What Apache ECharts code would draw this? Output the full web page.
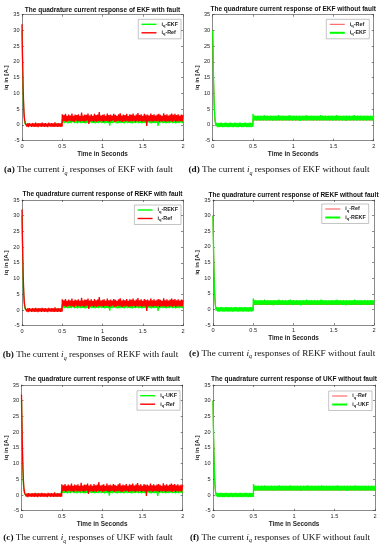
<!DOCTYPE html>
<html><head><meta charset="utf-8">
<script src="https://cdn.jsdelivr.net/npm/echarts@6/dist/echarts.min.js"></script>
<style>html,body{margin:0;padding:0;background:#fff}#c{width:383px;height:550px}</style>
</head><body><div id="c"></div>
<script>
// ---- data ----
const time = [0,0.005,0.01,0.015,0.02,0.025,0.03,0.04,
0.05,0.06,0.07,0.08,0.09,0.1,0.11,0.12,0.13,0.14,
0.15,0.16,0.17,0.18,0.19,0.2,0.21,0.22,0.23,0.24,
0.25,0.26,0.27,0.28,0.29,0.3,0.31,0.32,0.33,0.34,
0.35,0.36,0.37,0.38,0.39,0.4,0.41,0.42,0.43,0.44,
0.45,0.46,0.47,0.48,0.49,0.499,
0.5,0.51,0.52,0.53,0.54,0.55,0.56,0.57,0.58,0.59,
0.6,0.61,0.62,0.63,0.64,0.65,0.66,0.67,0.68,0.69,
0.7,0.71,0.72,0.73,0.74,0.75,0.76,0.77,0.78,0.79,
0.8,0.81,0.82,0.83,0.84,0.85,0.86,0.87,0.88,0.89,
0.9,0.91,0.92,0.93,0.94,0.95,0.96,0.97,0.98,0.99,
1,1.01,1.02,1.03,1.04,1.05,1.06,1.07,1.08,1.09,
1.1,1.11,1.12,1.13,1.14,1.15,1.16,1.17,1.18,1.19,
1.2,1.21,1.22,1.23,1.24,1.25,1.26,1.27,1.28,1.29,
1.3,1.31,1.32,1.33,1.34,1.35,1.36,1.37,1.38,1.39,
1.4,1.41,1.42,1.43,1.44,1.45,1.46,1.47,1.48,1.49,
1.5,1.51,1.52,1.53,1.54,1.55,1.56,1.57,1.58,1.59,
1.6,1.61,1.62,1.63,1.64,1.65,1.66,1.67,1.68,1.69,
1.7,1.71,1.72,1.73,1.74,1.75,1.76,1.77,1.78,1.79,
1.8,1.81,1.82,1.83,1.84,1.85,1.86,1.87,1.88,1.89,
1.9,1.91,1.92,1.93,1.94,1.95,1.96,1.97,1.98,1.99,
2];

// reference current with fault (red, noisy)
const refFault = [32,24,17,11,7,4,2.2,0.6,
0.6,-0.5,0.5,-0.7,0.6,-0.4,0.4,-0.6,0.6,-0.5,
0.5,-0.6,0.7,-0.5,0.4,-0.7,0.6,-0.4,0.5,-0.6,
0.7,-0.5,0.5,-0.6,0.6,-0.5,0.4,-0.7,0.7,-0.4,
0.5,-0.6,0.6,-0.5,0.5,-0.6,0.8,-0.5,0.4,-0.6,
0.6,-0.5,0.5,-0.6,0.6,-0.5,
3.4,1.2,3.1,1.3,3.5,1.0,2.9,1.2,3.3,1.4,
3.0,1.1,3.6,1.2,2.9,1.0,3.3,1.4,3.1,1.1,
3.4,1.2,2.9,1.1,3.9,1.3,3.0,1.0,3.3,1.2,
3.2,1.4,3.6,0.3,3.0,1.1,3.4,1.2,2.9,1.0,
3.5,1.2,3.1,1.0,3.3,1.3,4.1,1.1,3.0,1.3,
3.2,1.0,3.4,1.2,2.9,1.3,3.6,1.1,3.1,1.0,
3.3,1.2,3.0,1.4,3.5,1.0,3.2,1.1,2.9,1.3,
3.4,1.2,3.7,1.1,3.0,1.0,3.3,1.2,3.1,1.1,
3.5,1.3,2.9,1.0,3.4,1.2,3.2,1.1,3.6,1.3,
3.0,1.0,3.3,1.2,3.8,1.1,3.1,1.3,3.4,1.0,
2.9,1.2,3.5,1.1,3.2,-0.3,3.3,1.2,3.0,1.1,
3.6,1.2,3.1,1.0,3.4,1.3,3.0,1.1,3.3,1.2,
3.5,1.0,3.2,1.2,2.9,1.1,3.7,1.2,3.1,1.0,
3.4,1.2,3.0,1.1,3.3,1.2,3.6,1.0,3.2,1.3,
3.5,1.0,3.1,1.2,3.4,1.1,3.0,1.2,3.3,1.1,
3.2];

// estimated current with fault (green, mostly under the red)
const estFault = [30,22,15,9.5,5.5,3,1.4,0.3,
0.3,-0.3,0.2,-0.4,0.3,-0.2,0.4,-0.3,0.2,-0.3,
0.3,-0.4,0.2,-0.3,0.4,-0.2,0.3,-0.3,0.2,-0.4,
0.3,-0.3,0.4,-0.2,0.3,-0.3,0.2,-0.4,0.3,-0.2,
0.4,-0.3,0.2,-0.3,0.3,-0.4,0.2,-0.3,0.4,-0.2,
0.3,-0.3,0.2,-0.4,0.3,-0.2,
1.9,0.7,1.7,0.6,1.8,0.8,1.6,0.5,1.9,0.7,
1.7,0.6,1.8,0.9,1.6,0.6,2.0,0.7,1.7,0.5,
1.8,0.8,1.6,0.6,1.9,0.7,1.7,0.6,1.8,0.5,
1.6,0.7,1.9,0.6,1.7,0.8,1.8,0.6,1.6,0.7,
1.9,0.5,1.7,0.7,1.8,0.6,1.6,0.8,1.9,0.6,
1.7,0.7,1.8,0.5,1.6,0.7,1.9,0.6,1.7,-0.2,
1.8,0.7,1.6,0.6,1.9,0.8,1.7,0.6,1.8,0.5,
1.6,0.7,1.9,0.6,1.7,0.7,1.8,0.5,1.6,0.8,
1.9,0.6,1.7,0.7,1.8,0.6,1.6,0.5,1.9,0.7,
1.7,0.6,1.8,0.8,1.6,0.6,1.9,0.7,1.7,0.5,
1.8,0.7,1.6,0.6,1.9,0.7,1.7,0.8,1.8,0.6,
1.6,0.5,1.9,0.7,1.7,0.6,1.8,0.7,1.6,-0.3,
1.9,0.6,1.7,0.8,1.8,0.6,1.6,0.7,1.9,0.5,
1.7,0.7,1.8,0.6,1.6,0.8,1.9,0.6,1.7,0.7,
1.8,0.5,1.6,0.7,1.9,0.6,1.7,0.8,1.8,0.6,
1.7];

// estimated current without fault (green band)
const estClean = [30,22,15,9.5,5.5,3,1.2,-0.4,
0.7,-0.7,0.6,-0.7,0.7,-0.6,0.7,-0.7,0.6,-0.7,
0.7,-0.6,0.7,-0.7,0.6,-0.7,0.7,-0.6,0.7,-0.7,
0.6,-0.7,0.7,-0.6,0.7,-0.7,0.6,-0.7,0.7,-0.6,
0.7,-0.7,0.6,-0.7,0.7,-0.6,0.7,-0.7,0.6,-0.7,
0.7,-0.6,0.7,-0.7,0.6,-0.6,
3.5,1.4,3.0,1.5,2.9,1.4,3.0,1.5,2.9,1.4,
3.0,1.5,2.9,1.4,3.1,1.5,2.9,1.4,3.0,1.5,
2.9,1.4,3.0,1.5,2.9,1.3,3.0,1.5,2.9,1.4,
3.0,1.5,3.1,1.4,2.9,1.5,3.0,1.4,2.9,1.5,
3.0,1.4,2.9,1.5,3.0,1.4,3.1,1.5,2.9,1.4,
3.0,1.5,2.9,1.4,3.0,1.5,2.9,1.4,3.0,1.3,
2.9,1.5,3.0,1.4,2.9,1.5,3.1,1.4,3.0,1.5,
2.9,1.4,3.0,1.5,2.9,1.4,3.0,1.5,2.9,1.4,
3.0,1.5,2.9,1.4,3.1,1.5,3.0,1.4,2.9,1.5,
3.0,1.4,2.9,1.5,3.0,1.4,2.9,1.5,3.0,1.4,
2.9,1.5,3.0,1.4,3.1,1.5,2.9,1.4,3.0,1.5,
2.9,1.4,3.0,1.5,2.9,1.3,3.0,1.4,2.9,1.5,
3.0,1.4,2.9,1.5,3.0,1.4,3.1,1.5,2.9,1.4,
3.0,1.5,2.9,1.4,3.0,1.5,2.9,1.4,3.0,1.5,
2.9,1.4,3.0,1.5,2.9,1.4,3.0,1.5,2.9,1.4,
3.0];

// reference current without fault (thin red line)
const timeRefClean = [0,0.005,0.01,0.015,0.02,0.025,0.03,0.04,0.05,0.499,0.5,2];
const refClean = [30,22,15,9.5,5.5,3,1.2,0,0,0,1.6,1.6];

const xRange = [0, 2, 0.5];
const yRange = [-5, 35, 5];
const estimators = ['EKF', 'REKF', 'UKF'];
const faultStates = ['with fault', 'without fault'];
const captionLetters = [['a','d'],['b','e'],['c','f']];

// ---- layout ----
const W = 383;
const panels = [
  {row:0,col:0, grid:{left:22,top:14.7,width:161,height:126}, titleY:10, leg:{top:19.3,right:181}, cap:{x:4,y:170}},
  {row:0,col:1, grid:{left:212.7,top:14.7,width:161,height:126}, titleY:9, leg:{top:19.3,right:369.3}, cap:{x:188.5,y:170}},
  {row:1,col:0, grid:{left:22,top:200,width:161,height:125.7}, titleY:194, leg:{top:205,right:181}, cap:{x:2.7,y:355}},
  {row:1,col:1, grid:{left:213,top:200,width:161,height:125}, titleY:195, leg:{top:204,right:368.7}, cap:{x:189,y:353.5}},
  {row:2,col:0, grid:{left:21.5,top:385,width:161.2,height:125.7}, titleY:379.7, leg:{top:390.7,right:180}, cap:{x:3.3,y:538}},
  {row:2,col:1, grid:{left:213,top:385,width:162,height:125.7}, titleY:379.7, leg:{top:391,right:372}, cap:{x:190,y:537.5}}
];

const RED = '#ff0000', GREEN = '#00ff00';
const axisCol = '#3a3a3a';
const SANS = 'Liberation Sans, Arial, sans-serif';
const SERIF = 'Liberation Serif, Times New Roman, serif';

function pairs(t, v) { return t.map((x, i) => [x, v[i]]); }

const grids = [], xAxes = [], yAxes = [], series = [], legends = [], graphics = [];
const labelOf = {};
const legRich = {
  i: {fontSize:5.4, fontWeight:'bold', fontFamily:SANS, color:'#222', lineHeight:7},
  s: {fontSize:4, fontWeight:'bold', fontFamily:SANS, color:'#222', lineHeight:3, verticalAlign:'bottom'},
  t: {fontSize:5.4, fontWeight:'bold', fontFamily:SANS, color:'#222', lineHeight:7}
};

panels.forEach((p, gi) => {
  const est = estimators[p.row];
  const fault = p.col === 0;
  grids.push(Object.assign({containLabel:false, show:false}, p.grid));
  const lineStyle = {color: axisCol, width: 0.6};
  xAxes.push({gridIndex:gi, type:'value', position:'bottom', min:xRange[0], max:xRange[1], interval:xRange[2],
    axisLine:{show:true, onZero:false, lineStyle}, axisTick:{show:true, inside:true, length:2, lineStyle},
    axisLabel:{fontSize:5.6, margin:2.5, color:'#262626', fontFamily:SANS},
    splitLine:{show:false},
    name:'Time in Seconds', nameLocation:'middle', nameGap:10.5,
    nameTextStyle:{fontSize:6.4, fontWeight:'bold', color:'#262626', fontFamily:SANS}});
  xAxes.push({gridIndex:gi, type:'value', position:'top', min:xRange[0], max:xRange[1], interval:xRange[2],
    axisLine:{show:true, onZero:false, lineStyle}, axisTick:{show:true, inside:true, length:2, lineStyle},
    axisLabel:{show:false}, splitLine:{show:false}});
  yAxes.push({gridIndex:gi, type:'value', position:'left', min:yRange[0], max:yRange[1], interval:yRange[2],
    axisLine:{show:true, onZero:false, lineStyle}, axisTick:{show:true, inside:true, length:2, lineStyle},
    axisLabel:{fontSize:5.6, margin:2.5, color:'#262626', fontFamily:SANS},
    splitLine:{show:false},
    name:'iq in [A.]', nameLocation:'middle', nameGap:11, nameRotate:90,
    nameTextStyle:{fontSize:6.2, fontWeight:'bold', color:'#262626', fontFamily:SANS}});
  yAxes.push({gridIndex:gi, type:'value', position:'right', min:yRange[0], max:yRange[1], interval:yRange[2],
    axisLine:{show:true, onZero:false, lineStyle}, axisTick:{show:true, inside:true, length:2, lineStyle},
    axisLabel:{show:false}, splitLine:{show:false}});

  const estName = 'p' + gi + '-' + est;
  const refName = 'p' + gi + '-Ref';
  labelOf[estName] = '{i|i}{s|q}{t|-' + est + '}';
  labelOf[refName] = '{i|i}{s|q}{t|-Ref}';
  const base = {type:'line', xAxisIndex:2*gi, yAxisIndex:2*gi, symbol:'none', showSymbol:false,
    animation:false, sampling:null, clip:true};
  let legData;
  const hide = {opacity:0};
  if (fault) {
    series.push(Object.assign({}, base, {name:estName, data:pairs(time, estFault), lineStyle:{color:GREEN, width:1.3}, itemStyle:{color:GREEN}}));
    series.push(Object.assign({}, base, {name:refName, data:pairs(time, refFault), lineStyle:{color:RED, width:1.3}, itemStyle:{color:RED}}));
    legData = [{name:estName, lineStyle:{width:1.4, color:GREEN}, itemStyle:hide}, {name:refName, lineStyle:{width:1.4, color:RED}, itemStyle:hide}];
  } else {
    series.push(Object.assign({}, base, {name:refName, data:pairs(timeRefClean, refClean), lineStyle:{color:RED, width:0.8}, itemStyle:{color:RED}}));
    series.push(Object.assign({}, base, {name:estName, data:pairs(time, estClean), lineStyle:{color:GREEN, width:1.3}, itemStyle:{color:GREEN}}));
    legData = [{name:refName, lineStyle:{width:0.7, color:RED}, itemStyle:hide}, {name:estName, lineStyle:{width:2, color:GREEN}, itemStyle:hide}];
  }
  legends.push({orient:'vertical', right: W - p.leg.right, top: p.leg.top, data: legData,
    itemWidth:15, itemHeight:5, itemGap:2.5, padding:[2.5,3,2.5,2.5],
    itemStyle:{opacity:0},
    backgroundColor:'#fff', borderColor:'#8a8a8a', borderWidth:0.5, selectedMode:false,
    formatter: n => labelOf[n], textStyle:{fontSize:5.4, fontWeight:'bold', rich:legRich}});

  // plot title
  graphics.push({type:'text', silent:true, style:{
    text:'The quadrature current response of ' + est + ' ' + faultStates[p.col],
    x: p.grid.left + p.grid.width/2, y: p.titleY, align:'center', verticalAlign:'middle',
    fontSize:6.5, fontWeight:'bold', fontFamily:SANS, fill:'#111'}});

  // caption
  const letter = captionLetters[p.row][p.col];
  graphics.push({type:'text', silent:true, style:{
    text:'{b|(' + letter + ')}{n| The current }{i|i}{s|q}{n| responses of ' + est + ' ' + faultStates[p.col] + '}',
    x: p.cap.x, y: p.cap.y, align:'left', verticalAlign:'middle',
    rich:{
      b:{fontSize:9.2, fontWeight:'bold', fontFamily:SERIF, fill:'#111', lineHeight:12},
      n:{fontSize:9.2, fontFamily:SERIF, fill:'#111', lineHeight:12},
      i:{fontSize:9.2, fontStyle:'italic', fontFamily:SERIF, fill:'#111', lineHeight:12},
      s:{fontSize:6, fontStyle:'italic', fontFamily:SERIF, fill:'#111', lineHeight:6.5, verticalAlign:'bottom'}
    }}});
});

const chart = echarts.init(document.getElementById('c'), null, {renderer:'canvas'});
chart.setOption({
  backgroundColor:'#fff', animation:false,
  grid: grids, xAxis: xAxes, yAxis: yAxes, series: series, legend: legends, graphic: graphics
});
</script>
</body></html>
